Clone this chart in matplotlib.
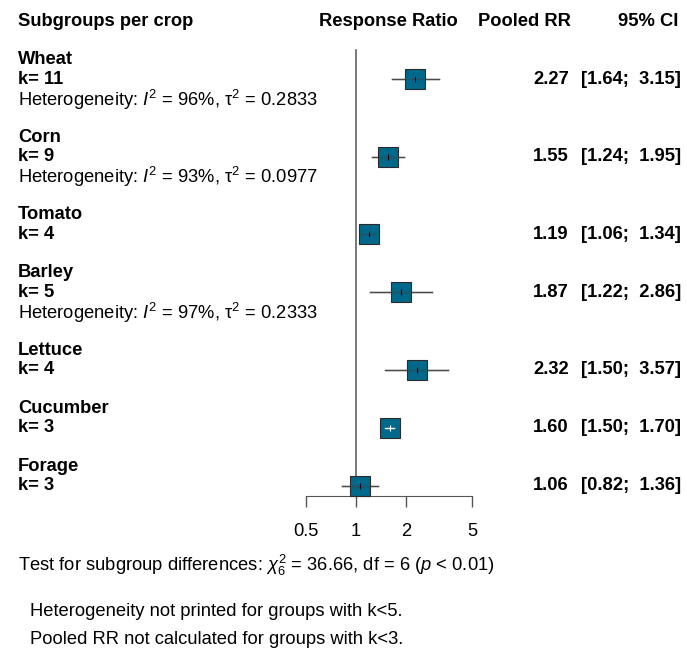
import numpy as np
import matplotlib as mpl
mpl.use('Agg')
import matplotlib.pyplot as plt

plt.rcParams['font.family'] = ['Liberation Sans', 'DejaVu Sans']
plt.rcParams['mathtext.fontset'] = 'custom'
plt.rcParams['mathtext.rm'] = 'Liberation Sans'
plt.rcParams['mathtext.it'] = 'Liberation Sans:italic'
plt.rcParams['mathtext.bf'] = 'Liberation Sans:bold'

# data
crops = ['Wheat', 'Corn', 'Tomato', 'Barley', 'Lettuce', 'Cucumber', 'Forage']
k = [11, 9, 4, 5, 4, 3, 3]
rr = [2.27, 1.55, 1.19, 1.87, 2.32, 1.60, 1.06]
lower = [1.64, 1.24, 1.06, 1.22, 1.50, 1.50, 0.82]
upper = [3.15, 1.95, 1.34, 2.86, 3.57, 1.70, 1.36]
i2 = [96, 93, None, 97, None, None, None]
tau2 = ['0.2833', '0.0977', None, '0.2333', None, None, None]
ticks = [0.5, 1, 2, 5]
tick_labels = ['0.5', '1', '2', '5']

FS = 13.2
col_sq = '#00688B'
Y0 = 60.0     # pixel row of first line
LH = 19.35    # line height in pixels

W, H = 687, 650
fig = plt.figure(figsize=(W / 100, H / 100), dpi=100)
ax0 = fig.add_axes([0, 0, 1, 1])
ax0.set_xlim(0, W)
ax0.set_ylim(H, 0)
ax0.axis('off')

# forest axes: x position 1 -> 356 px, 72.1 px per ln unit
X1, SCALE = 356.0, 72.1
left_px, right_px = 300.0, 480.0
ax = fig.add_axes([left_px / W, 0, (right_px - left_px) / W, 1])
ax.set_xscale('log')
ax.set_xlim(np.exp((left_px - X1) / SCALE), np.exp((right_px - X1) / SCALE))
ax.set_ylim(H, 0)
ax.patch.set_alpha(0)

# headers
ax0.text(18, 22, 'Subgroups per crop', fontsize=FS, fontweight='bold', va='center')
ax0.text(388, 22, 'Response Ratio', fontsize=FS, fontweight='bold', va='center', ha='center')
ax0.text(571, 22, 'Pooled RR', fontsize=FS, fontweight='bold', va='center', ha='right')
ax0.text(678, 22, '95% CI', fontsize=FS, fontweight='bold', va='center', ha='right')

line = 0
rows_y = []
for i, name in enumerate(crops):
    y_name = Y0 + line * LH
    y_k = Y0 + (line + 1) * LH
    ax0.text(18, y_name, name, fontsize=FS, fontweight='bold', va='center')
    ax0.text(18, y_k, 'k= %d' % k[i], fontsize=FS, fontweight='bold', va='center')
    line += 2
    if i2[i] is not None:
        y_h = Y0 + line * LH + 1
        ax0.text(18, y_h, 'Heterogeneity: $\\mathit{I}^2$ = %d%%, \u03c4${}^2$ = %s' % (i2[i], tau2[i]),
                 fontsize=FS, va='center')
        line += 1
    line += 1
    rows_y.append(y_k)
    ax0.text(569, y_k, '%.2f' % rr[i], fontsize=FS, fontweight='bold', va='center', ha='right')
    ax0.text(681, y_k, '[%.2f;  %.2f]' % (lower[i], upper[i]), fontsize=FS, fontweight='bold',
             va='center', ha='right')

axis_y = rows_y[-1] + 10
# reference line
ax.plot([1, 1], [50, axis_y], color='#555555', lw=1.1, zorder=1)

half_box = 10 / SCALE
for i, y in enumerate(rows_y):
    ci_col = '#444444'
    if np.log(upper[i] / lower[i]) < half_box:
        ci_col = 'white'
    ax.plot([lower[i], upper[i]], [y, y], color='#555555', lw=1, zorder=2)
    ax.plot([rr[i]], [y], marker='s', ms=14.6, mfc=col_sq, mec='#2b2b2b', mew=0.8, ls='none', zorder=3)
    ax.plot([lower[i], upper[i]], [y, y], color=ci_col, lw=1, zorder=4,
            alpha=1 if ci_col == 'white' else 0.6)
    ax.plot([rr[i]], [y], marker='|', ms=5, color='white' if ci_col == 'white' else 'black', mew=0.8, zorder=5)

for s in ['top', 'left', 'right']:
    ax.spines[s].set_visible(False)
ax.spines['bottom'].set_position(('data', axis_y))
ax.spines['bottom'].set_bounds(0.5, 5)
ax.spines['bottom'].set_color('#555555')
ax.set_xticks(ticks)
ax.set_xticklabels(tick_labels)
ax.xaxis.set_minor_locator(mpl.ticker.NullLocator())
ax.tick_params(axis='x', direction='out', length=8, width=1, color='#555555', labelsize=FS, pad=12)
ax.set_yticks([])

ax0.text(18, 565, 'Test for subgroup differences: $\\chi^2_6$ = 36.66, df = 6 ($\\mathit{p}$ < 0.01)',
         fontsize=FS, va='center')
ax0.text(30, 612, 'Heterogeneity not printed for groups with k<5.', fontsize=FS, va='center')
ax0.text(30, 639, 'Pooled RR not calculated for groups with k<3.', fontsize=FS, va='center')

fig.savefig('out.png', dpi=100)
